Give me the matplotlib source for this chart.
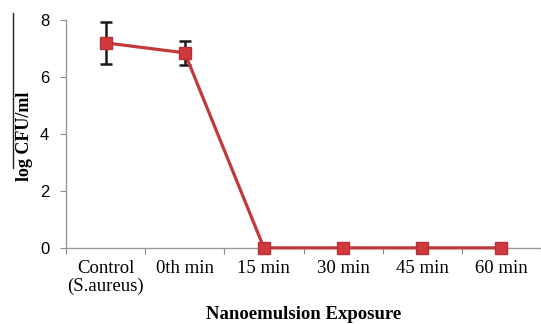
import matplotlib
matplotlib.use("Agg")
import matplotlib.pyplot as plt
from matplotlib.lines import Line2D

categories = ["Control\n(S.aureus)", "0th min", "15 min", "30 min", "45 min", "60 min"]
log_cfu = [7.2, 6.85, 0, 0, 0, 0]
errors = [0.75, 0.42, 0, 0, 0, 0]
yticks = [0, 2, 4, 6, 8]

fig = plt.figure(figsize=(5.41, 3.24), dpi=100)
ax = fig.add_axes([0.122, 0.235, 0.878, 0.703])

x = list(range(len(categories)))
ax.errorbar(x[:2], log_cfu[:2], yerr=errors[:2], fmt='none', ecolor='#1a1a1a',
            elinewidth=1.8, capsize=4, capthick=1.8, zorder=2)
ax.plot(x, log_cfu, color='#C0393B', lw=2.3, marker='s', ms=8,
        mfc='#D0393E', mec='#B83035', zorder=3, clip_on=False)

ax.set_xlim(-0.5, 5.5)
ax.set_ylim(0, 8)
ax.set_yticks(yticks)
ax.set_yticklabels([str(v) for v in yticks], fontsize=12, family='Liberation Sans')
ax.set_xticks([i + 0.5 for i in range(-1, 6)], minor=False)
ax.set_xticklabels([])
ax.set_xticks(x, minor=True)
ax.set_xticklabels(categories, minor=True, fontsize=13.5, family='Liberation Serif',
                   linespacing=1.0)
ax.tick_params(axis='x', which='minor', length=0, pad=9)
ax.tick_params(axis='x', which='major', length=4, color='#888888', direction='out')
ax.tick_params(axis='y', length=4, color='#888888', direction='out', pad=8)

for s in ['top', 'right']:
    ax.spines[s].set_visible(False)
for s in ['left', 'bottom']:
    ax.spines[s].set_color('#999999')
    ax.spines[s].set_linewidth(1.0)

ax.set_xlabel("Nanoemulsion Exposure", fontsize=13.5, fontweight='bold',
              family='Liberation Serif', labelpad=8)
ax.set_ylabel("log CFU/ml", fontsize=13, fontweight='bold',
              family='Liberation Serif', va='center')
ax.yaxis.set_label_coords(-0.087, 0.49)

fig.add_artist(Line2D([13/541, 13/541], [1 - 13/324, 1 - 168/324],
                      color='#222222', lw=1.0, transform=fig.transFigure))

fig.savefig("out.png", dpi=100)
